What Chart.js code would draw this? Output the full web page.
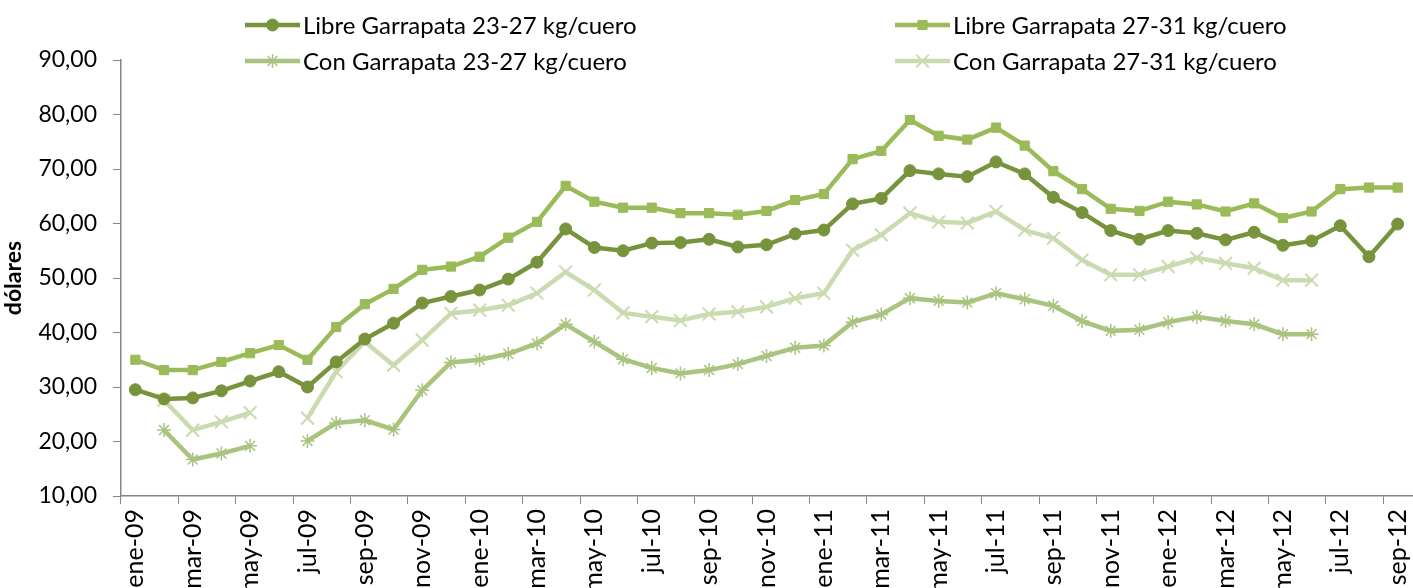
<!DOCTYPE html>
<html>
<head>
<meta charset="utf-8">
<script src="https://cdn.jsdelivr.net/npm/chart.js@4.4.0/dist/chart.umd.min.js"></script>
<style>
  html, body { margin: 0; padding: 0; background: #fff; overflow: hidden; }
  #wrap { width: 1413px; height: 588px; position: relative; }
</style>
</head>
<body>
<div id="wrap"><canvas id="precios"></canvas></div>
<script>
// Meses (ene-09 .. sep-12)
const meses = [
  'ene-09','feb-09','mar-09','abr-09','may-09','jun-09','jul-09','ago-09','sep-09','oct-09','nov-09','dic-09',
  'ene-10','feb-10','mar-10','abr-10','may-10','jun-10','jul-10','ago-10','sep-10','oct-10','nov-10','dic-10',
  'ene-11','feb-11','mar-11','abr-11','may-11','jun-11','jul-11','ago-11','sep-11','oct-11','nov-11','dic-11',
  'ene-12','feb-12','mar-12','abr-12','may-12','jun-12','jul-12','ago-12','sep-12'
];

const libre2327 = [
  29.5, 27.8, 28.0, 29.3, 31.1, 32.8, 30.0, 34.6, 38.8, 41.7, 45.4, 46.6,
  47.8, 49.8, 52.9, 59.0, 55.6, 55.0, 56.4, 56.5, 57.1, 55.7, 56.1, 58.1,
  58.8, 63.6, 64.6, 69.7, 69.1, 68.6, 71.3, 69.1, 64.8, 62.0, 58.7, 57.1,
  58.7, 58.2, 57.0, 58.4, 56.0, 56.8, 59.6, 53.9, 59.9
];

const libre2731 = [
  35.0, 33.1, 33.1, 34.6, 36.2, 37.7, 35.0, 41.0, 45.2, 48.0, 51.5, 52.1,
  53.9, 57.4, 60.3, 66.9, 64.0, 62.9, 62.9, 61.9, 61.9, 61.6, 62.3, 64.3,
  65.4, 71.8, 73.3, 79.0, 76.1, 75.4, 77.6, 74.3, 69.6, 66.3, 62.7, 62.3,
  64.0, 63.5, 62.2, 63.7, 61.0, 62.2, 66.3, 66.6, 66.6
];

const con2327 = [
  null, 22.1, 16.7, 17.8, 19.2, null, 20.1, 23.4, 23.9, 22.2, 29.4, 34.5,
  35.0, 36.1, 38.0, 41.5, 38.3, 35.1, 33.5, 32.5, 33.1, 34.2, 35.7, 37.2,
  37.6, 41.9, 43.3, 46.3, 45.8, 45.5, 47.2, 46.1, 44.9, 42.1, 40.3, 40.5,
  41.9, 42.9, 42.1, 41.5, 39.7, 39.7, null, null, null
];

const con2731 = [
  null, 27.6, 22.1, 23.6, 25.3, null, 24.3, 32.8, 38.3, 34.0, 38.6, 43.5,
  44.1, 45.0, 47.2, 51.1, 47.8, 43.6, 42.9, 42.2, 43.4, 43.8, 44.7, 46.3,
  47.2, 55.1, 57.9, 61.9, 60.3, 60.1, 62.2, 58.8, 57.3, 53.3, 50.6, 50.6,
  52.1, 53.7, 52.7, 51.8, 49.6, 49.6, null, null, null
];

const nombres = [
  'Libre Garrapata 23-27 kg/cuero',
  'Libre Garrapata 27-31 kg/cuero',
  'Con Garrapata 23-27 kg/cuero',
  'Con Garrapata 27-31 kg/cuero'
];

const FUENTE = 'Lato, "DejaVu Sans", sans-serif';
const EJE = '#868686';

function serie(label, data, color, estilo, radio, borde) {
  return {
    label: label,
    data: data,
    borderColor: color,
    backgroundColor: color,
    borderWidth: 4.5,
    pointStyle: estilo,
    pointRadius: radio,
    pointBorderWidth: borde,
    pointBackgroundColor: color,
    pointBorderColor: color,
    tension: 0,
    spanGaps: false
  };
}

// Leyenda propia: 2 columnas x 2 filas encima del area de trazado
const leyenda = {
  id: 'leyenda',
  afterDraw(chart) {
    const ctx = chart.ctx;
    const colX = [245, 895];
    const filaY = [25, 61];
    ctx.save();
    ctx.font = '24px ' + FUENTE;
    ctx.textBaseline = 'middle';
    ctx.textAlign = 'left';
    chart.data.datasets.forEach((ds, i) => {
      const x = colX[i % 2];
      const y = filaY[Math.floor(i / 2)];
      ctx.strokeStyle = ds.borderColor;
      ctx.fillStyle = ds.borderColor;
      ctx.lineWidth = ds.borderWidth;
      ctx.beginPath();
      ctx.moveTo(x, y);
      ctx.lineTo(x + 55, y);
      ctx.stroke();
      ctx.lineWidth = ds.pointBorderWidth;
      Chart.helpers.drawPoint(ctx, {
        pointStyle: ds.pointStyle,
        radius: ds.pointRadius,
        borderWidth: ds.pointBorderWidth,
        rotation: 0
      }, x + 27.5, y);
      ctx.fillStyle = '#000';
      ctx.fillText(ds.label, x + 58, y + 1);
    });
    ctx.restore();
  }
};

new Chart(document.getElementById('precios'), {
  type: 'line',
  data: {
    labels: meses,
    datasets: [
      serie(nombres[0], libre2327, '#77933C', 'circle', 6, 1),
      serie(nombres[1], libre2731, '#9BBB59', 'rect', 6.5, 1),
      serie(nombres[2], con2327, '#A9C47F', 'star', 7, 1.5),
      serie(nombres[3], con2731, '#CADBB0', 'crossRot', 9, 2)
    ]
  },
  options: {
    responsive: true,
    maintainAspectRatio: false,
    animation: false,
    layout: {
      autoPadding: false,
      padding: { top: 60, right: 1, left: 0, bottom: 0 }
    },
    plugins: {
      legend: { display: false },
      tooltip: { enabled: false }
    },
    scales: {
      x: {
        offset: true,
        border: { color: EJE, width: 1.5 },
        grid: {
          drawOnChartArea: false,
          tickLength: 8,
          offset: true,
          color: (c) => (c.index % 2 === 0 ? EJE : 'rgba(0,0,0,0)')
        },
        ticks: {
          autoSkip: false,
          minRotation: 90,
          maxRotation: 90,
          padding: 5,
          color: '#000',
          font: { family: FUENTE, size: 25 },
          callback: function (v, i) { return i % 2 === 0 ? meses[i] : ''; }
        },
        afterFit: (s) => {
          s.height = 92;
          s.paddingLeft = 0;
          s.paddingRight = 0;
        }
      },
      y: {
        min: 10,
        max: 90,
        border: { color: EJE, width: 1.5 },
        grid: { drawOnChartArea: false, tickLength: 8, color: EJE },
        ticks: {
          stepSize: 10,
          padding: 16,
          color: '#000',
          font: { family: FUENTE, size: 23 },
          callback: (v) => v.toFixed(2).replace('.', ',')
        },
        title: {
          display: true,
          text: 'dólares',
          color: '#000',
          font: { family: FUENTE, size: 23, weight: 'bold' },
          padding: { top: 0, bottom: 0 }
        },
        afterFit: (s) => { s.width = 121; }
      }
    }
  },
  plugins: [leyenda]
});
</script>
</body>
</html>
